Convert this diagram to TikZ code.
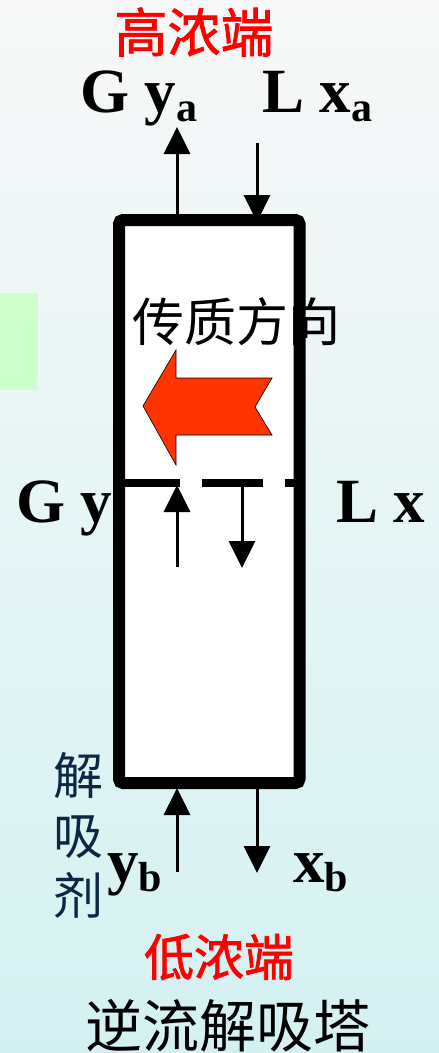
\documentclass[tikz,border=0pt]{standalone}
\usepackage{fontspec}
\setmainfont{Liberation Serif}
\newfontfamily\cjk{Noto Sans CJK SC}
\newfontfamily\cjkheavy[FakeBold=1.5]{Noto Sans CJK SC}
\usetikzlibrary{arrows.meta}
\definecolor{bgtop}{HTML}{F8F8F8}
\definecolor{bgmid}{HTML}{F0F2F2}
\definecolor{bgbot}{HTML}{D4F1F1}
\definecolor{panelgreen}{HTML}{CCFFCC}
\definecolor{flowred}{HTML}{FF3300}
\definecolor{navy}{HTML}{0C2743}
\newcommand\lowsub[1]{\raisebox{-9pt}{\fontsize{42}{42}\selectfont #1}}
\tikzset{
  latin/.style={inner sep=0pt, anchor=base west, font=\fontsize{63}{63}\selectfont\bfseries},
  cjklabel/.style={inner sep=0pt, font=\cjk\fontsize{#1}{#1}\selectfont},
  endlabel/.style={inner sep=0pt, text=red, font=\cjkheavy\fontsize{#1}{#1}\selectfont},
  flow/.style={line width=3pt, -{Triangle[width=26pt,length=27pt]}},
  wall/.style={line width=12pt, rounded corners=4pt},
  tray/.style={line width=8pt}
}
\begin{document}
\begin{tikzpicture}[x=1pt,y=-1pt]
  % page and background
  \useasboundingbox (0,0) rectangle (439,1053);
  \shade[top color=bgtop, middle color=bgmid, bottom color=bgbot] (0,0) rectangle (439,1053);
  \fill[panelgreen] (0,293) rectangle (38,390);

  % column body
  \fill[white] (119,220) rectangle (299.5,783);

  % mass transfer arrow
  \filldraw[fill=flowred, draw=black, line width=0.6pt]
    (143,406) -- (176,350) -- (176,378) -- (272,378) -- (255,407)
    -- (272,435) -- (176,435) -- (176,465) -- cycle;

  % tray line with openings
  \coordinate (trayL) at (119,483);
  \coordinate (trayR) at (299.5,483);
  \draw[tray] (trayL) -- (180,483);
  \draw[tray] (202,483) -- (263,483);
  \draw[tray] (285,483) -- (trayR);

  % flow connector points
  \coordinate (gIn) at (177,567);
  \coordinate (gTray) at (177,485);
  \coordinate (lTray) at (242,483);
  \coordinate (lOut) at (242,568);
  \coordinate (gTop) at (177,214);
  \coordinate (gExit) at (177,127);
  \coordinate (lEnter) at (257,143);
  \coordinate (lTop) at (257,222);
  \coordinate (gBot) at (177,872);
  \coordinate (gFeed) at (177,788);
  \coordinate (lBot) at (257,783);
  \coordinate (lExit) at (257,873);

  \draw[flow] (gIn) -- (gTray);
  \draw[flow] (lTray) -- (lOut);
  \draw[flow] (gTop) -- (gExit);
  \draw[flow] (lEnter) -- (lTop);
  \draw[flow] (gBot) -- (gFeed);
  \draw[flow] (lBot) -- (lExit);

  % column wall
  \draw[wall] (119,220) rectangle (299.5,783);

  % labels
  \node[endlabel=53] (hi) at (194,32) {高浓端};
  \node[latin] (gya) at (80,112) {G y\lowsub{a}};
  \node[latin] (lxa) at (262,112) {L x\lowsub{a}};
  \node[cjklabel=52] (dir) at (236,322) {传质方向};
  \node[latin] (gy) at (16,522) {G y};
  \node[latin] (lx) at (336,522) {L x};
  \node[cjklabel=50, text=navy, align=center] (agent) at (78,835)
    {解\\[10pt]吸\\[10pt]剂};
  \node[latin] (yb) at (107,882) {y\lowsub{b}};
  \node[latin] (xb) at (293,882) {x\lowsub{b}};
  \node[endlabel=50] (lo) at (219,957) {低浓端};
  \node[cjklabel=57] (title) at (228,1026) {逆流解吸塔};
\end{tikzpicture}
\end{document}
